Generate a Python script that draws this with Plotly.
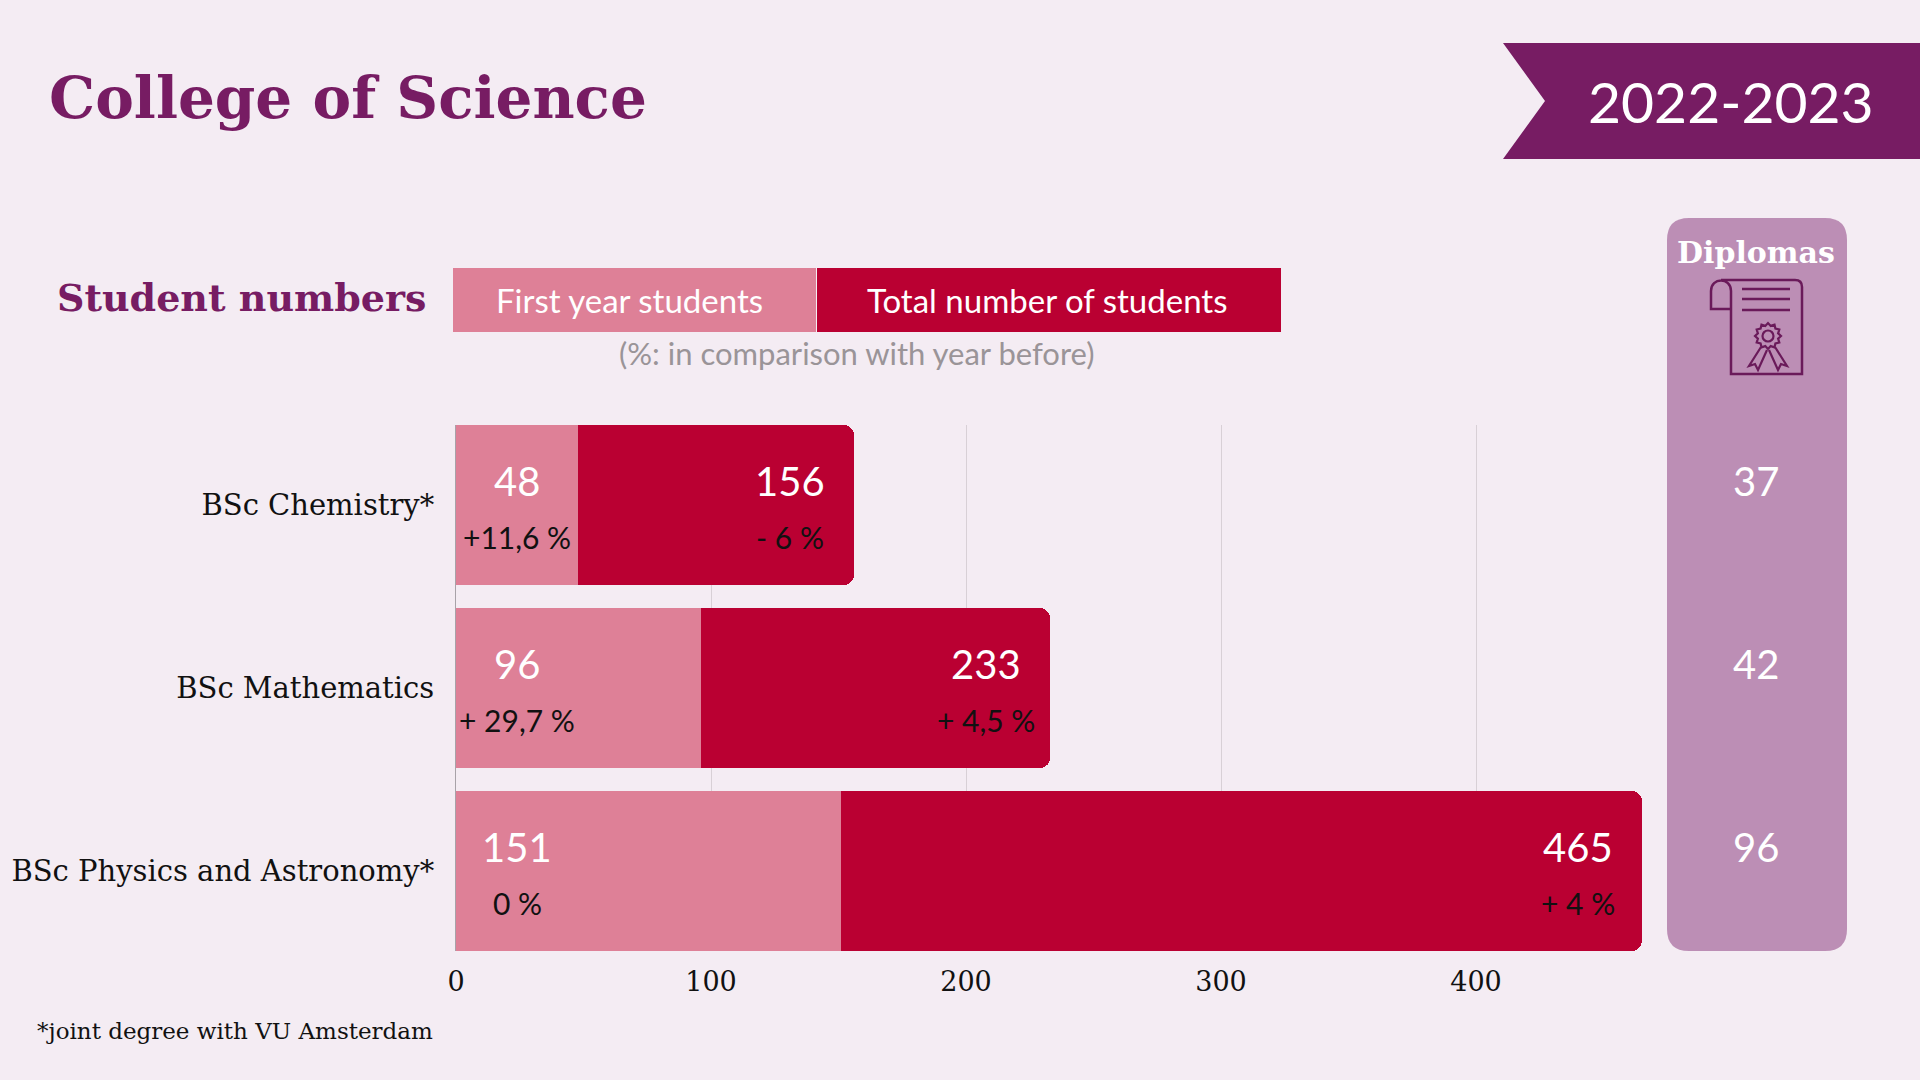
import math
import plotly.graph_objects as go

# ---------------- data ----------------
programmes = ["BSc Chemistry*", "BSc Mathematics", "BSc Physics and Astronomy*"]
first_year = [48, 96, 151]
total_students = [156, 233, 465]
first_year_change = ["+11,6 %", "+ 29,7 %", "0 %"]
total_change = ["- 6 %", "+ 4,5 %", "+ 4 %"]
diplomas = [37, 42, 96]
x_ticks = [0, 100, 200, 300, 400]

title_text = "College of Science"
year_text = "2022-2023"
section_text = "Student numbers"
legend_first = "First year students"
legend_total = "Total number of students"
legend_note = "(%: in comparison with year before)"
diplomas_label = "Diplomas"
footnote = "*joint degree with VU Amsterdam"

# ---------------- style ----------------
BG = "#F4ECF3"
PURPLE = "#771C63"
PINK = "#DE8097"
RED = "#BA0032"
PANEL = "#BC8EB5"
ICON = "#6A1A5A"
SERIF = "DejaVu Serif"
SANS = "Lato"

W, H = 1920, 1080
X0_PX, X400_PX = 456, 1476
px_per_unit = (X400_PX - X0_PX) / 400
x_max = 470
x_dom = [X0_PX / W, (X0_PX + px_per_unit * x_max) / W]
y_dom = [1 - 951 / H, 1 - 425 / H]
bar_w = 0.874
y_rng = [-bar_w / 2, len(programmes) - 1 + bar_w / 2]

order = programmes[::-1]  # bottom to top

fig = go.Figure()

fig.add_trace(go.Bar(
    y=programmes, x=total_students, orientation="h",
    marker=dict(color=RED, cornerradius=10, line=dict(width=0)),
    width=bar_w, hoverinfo="skip", showlegend=False,
))
fig.add_trace(go.Bar(
    y=programmes, x=first_year, orientation="h",
    marker=dict(color=PINK, line=dict(width=0)),
    width=bar_w, hoverinfo="skip", showlegend=False,
))
# empty trace to create a pixel-space overlay axis pair
fig.add_trace(go.Scatter(x=[], y=[], xaxis="x2", yaxis="y2", showlegend=False, hoverinfo="skip"))

annotations = []
VAL_DY, PCT_DY = 24, -32
for p, fy, tot, fc, tc, d in zip(programmes, first_year, total_students,
                                 first_year_change, total_change, diplomas):
    annotations.append(dict(x=0, y=p, xref="x", yref="y", text=str(fy), showarrow=False, xanchor="center",
                            xshift=61, yshift=VAL_DY, font=dict(family=SANS, size=40, color="white")))
    annotations.append(dict(x=0, y=p, xref="x", yref="y", text=fc, showarrow=False, xanchor="center",
                            xshift=61, yshift=PCT_DY, font=dict(family=SANS, size=30, color="#111111")))
    annotations.append(dict(x=tot, y=p, xref="x", yref="y", text=str(tot), showarrow=False, xanchor="center",
                            xshift=-64, yshift=VAL_DY, font=dict(family=SANS, size=40, color="white")))
    annotations.append(dict(x=tot, y=p, xref="x", yref="y", text=tc, showarrow=False, xanchor="center",
                            xshift=-64, yshift=PCT_DY, font=dict(family=SANS, size=30, color="#111111")))
    annotations.append(dict(x=1756, y=p, xref="x2", yref="y", text=str(d), showarrow=False, xanchor="center",
                            yshift=VAL_DY, font=dict(family=SANS, size=40, color="white")))


def px_text(x, y, text, size, color, family, anchor="left", bold=False):
    t = f"<b>{text}</b>" if bold else text
    return dict(x=x, y=y, xref="x2", yref="y2", text=t, showarrow=False, xanchor=anchor, yanchor="middle",
                font=dict(family=family, size=size, color=color))


annotations += [
    px_text(47, 98, title_text, 58, PURPLE, SERIF, bold=True),
    px_text(1731, 101, year_text, 57, "white", SANS, anchor="center"),
    px_text(55, 297, section_text, 38, PURPLE, SERIF, bold=True),
    px_text(629, 300, legend_first, 33, "white", SANS, anchor="center"),
    px_text(1047, 300, legend_total, 33, "white", SANS, anchor="center"),
    px_text(857, 353, legend_note, 31, "#9A9498", SANS, anchor="center"),
    px_text(1756, 252, diplomas_label, 30, "white", SERIF, anchor="center", bold=True),
    px_text(35, 1031, footnote, 23, "#111111", SERIF),
]


def rrect(x0, y0, x1, y1, r):
    return (f"M {x0+r} {y0} L {x1-r} {y0} Q {x1} {y0} {x1} {y0+r} L {x1} {y1-r} Q {x1} {y1} {x1-r} {y1} "
            f"L {x0+r} {y1} Q {x0} {y1} {x0} {y1-r} L {x0} {y0+r} Q {x0} {y0} {x0+r} {y0} Z")


rose = []
cx, cy = 1768, 336
for i in range(24):
    r = 13 if i % 2 == 0 else 10.5
    a = 2 * math.pi * i / 24
    rose.append(f"{cx + r*math.cos(a):.1f} {cy + r*math.sin(a):.1f}")
rose_path = "M " + " L ".join(rose) + " Z"

shapes = [
    # year banner
    dict(type="path", xref="x2", yref="y2", path="M 1503 43 L 1920 43 L 1920 159 L 1503 159 L 1545 101 Z",
         fillcolor=PURPLE, line=dict(width=0)),
    # legend boxes
    dict(type="rect", xref="x2", yref="y2", x0=453, x1=816, y0=268, y1=332, fillcolor=PINK, line=dict(width=0)),
    dict(type="rect", xref="x2", yref="y2", x0=817, x1=1281, y0=268, y1=332, fillcolor=RED, line=dict(width=0)),
    # diplomas panel
    dict(type="path", xref="x2", yref="y2", path=rrect(1667, 218, 1847, 951, 22),
         fillcolor=PANEL, line=dict(width=0)),
    # diploma icon
    dict(type="path", xref="x2", yref="y2",
         path="M 1731 309 L 1711 309 L 1711 291 C 1711 277 1731 277 1731 291 L 1731 374 L 1802 374 L 1802 287 "
              "Q 1802 280 1795 280 L 1721 280",
         line=dict(color=ICON, width=2.5)),
    dict(type="line", xref="x2", yref="y2", x0=1742, x1=1790, y0=289, y1=289, line=dict(color=ICON, width=2.5)),
    dict(type="line", xref="x2", yref="y2", x0=1742, x1=1790, y0=299, y1=299, line=dict(color=ICON, width=2.5)),
    dict(type="line", xref="x2", yref="y2", x0=1742, x1=1790, y0=310, y1=310, line=dict(color=ICON, width=2.5)),
    dict(type="path", xref="x2", yref="y2", path=rose_path, line=dict(color=ICON, width=2.2)),
    dict(type="circle", xref="x2", yref="y2", x0=cx-5.5, x1=cx+5.5, y0=cy-5.5, y1=cy+5.5,
         line=dict(color=ICON, width=2.2)),
    dict(type="path", xref="x2", yref="y2", path="M 1761 347 L 1749 366 L 1755 364 L 1758 370 L 1767 350",
         line=dict(color=ICON, width=2.2)),
    dict(type="path", xref="x2", yref="y2", path="M 1775 347 L 1787 366 L 1781 364 L 1778 370 L 1769 350",
         line=dict(color=ICON, width=2.2)),
]

fig.update_layout(
    width=W, height=H,
    margin=dict(l=0, r=0, t=0, b=0, pad=0, autoexpand=False),
    paper_bgcolor=BG, plot_bgcolor="rgba(0,0,0,0)",
    barmode="overlay", bargap=0,
    showlegend=False,
    xaxis=dict(domain=x_dom, range=[0, x_max], tickvals=x_ticks, ticktext=[str(v) for v in x_ticks],
               showgrid=True, gridcolor="#D8D0D6", gridwidth=1, zeroline=False, showline=False,
               ticks="", ticklabelstandoff=12, tickfont=dict(family=SERIF, size=27, color="#111111"),
               automargin=False, fixedrange=True),
    yaxis=dict(domain=y_dom, range=y_rng, type="category", categoryorder="array", categoryarray=order,
               showgrid=False, zeroline=False, showline=True, linecolor="#A8A2A8", linewidth=1,
               ticks="", ticklabelstandoff=15, tickfont=dict(family=SERIF, size=29, color="#111111"),
               automargin=False, fixedrange=True),
    xaxis2=dict(domain=[0, 1], range=[0, W], anchor="y2", visible=False, automargin=False, fixedrange=True),
    yaxis2=dict(domain=[0, 1], range=[H, 0], anchor="x2", visible=False, automargin=False, fixedrange=True),
    annotations=annotations,
    shapes=shapes,
)

fig.write_html(
    "out.html",
    config={"displayModeBar": False},
    post_script="document.body.style.margin='0';document.body.style.overflow='hidden';",
)
